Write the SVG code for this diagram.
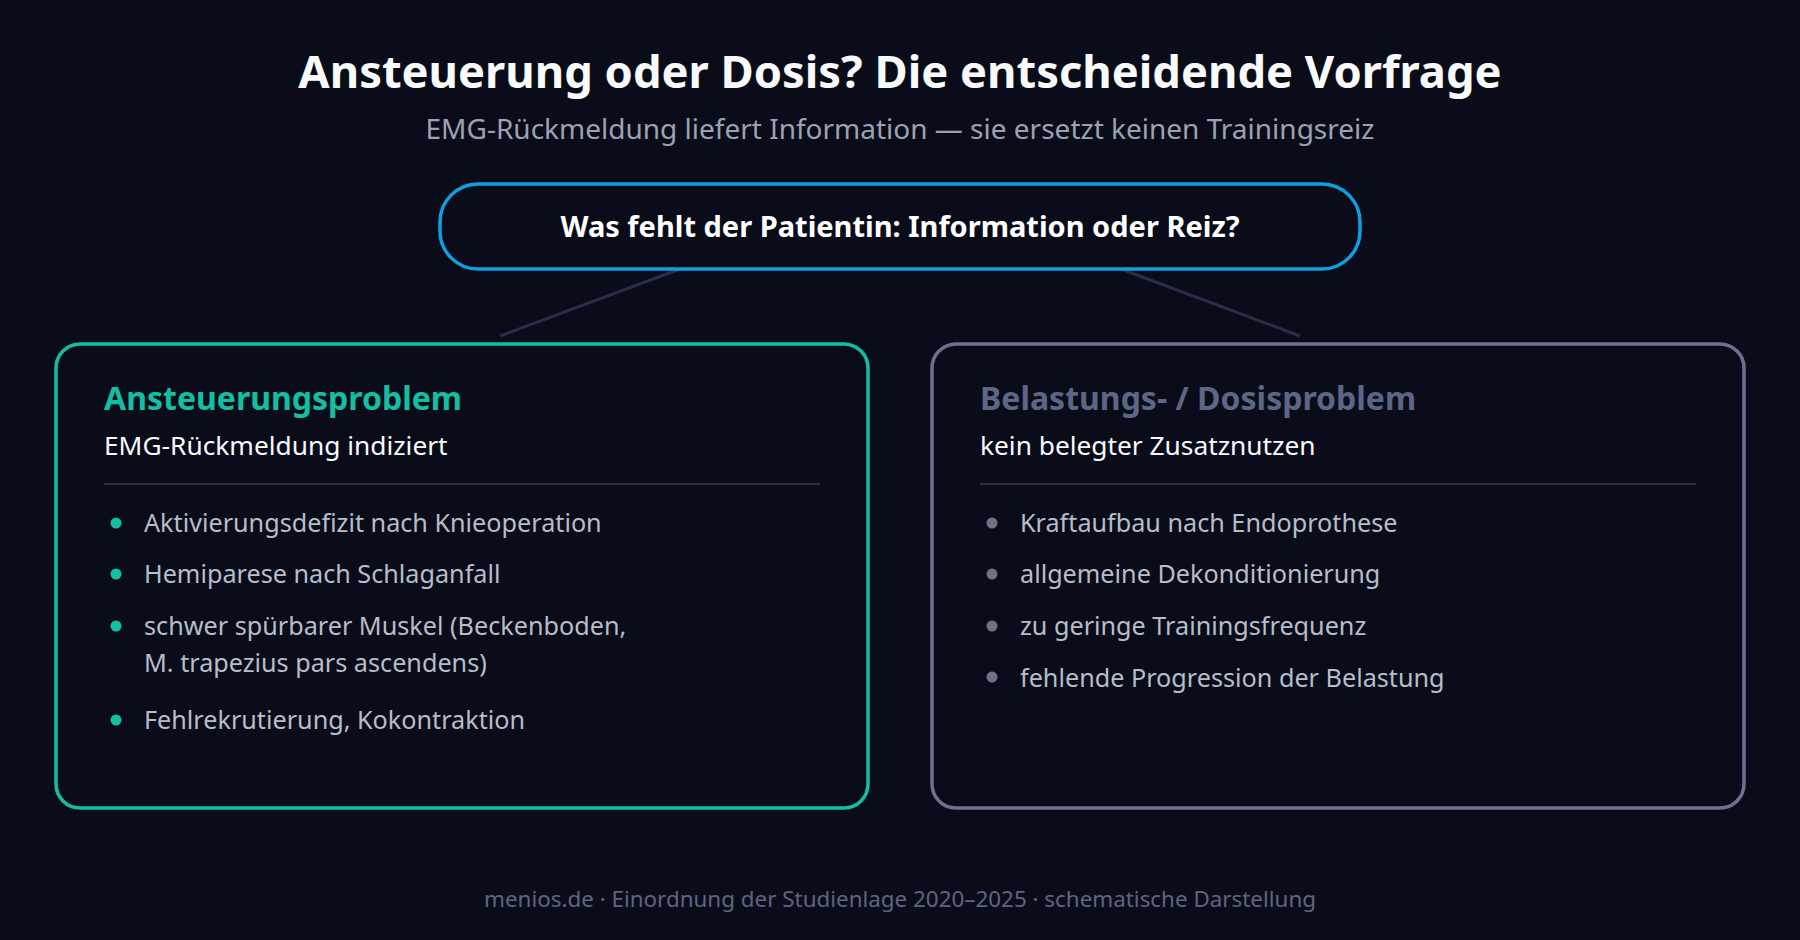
<svg xmlns="http://www.w3.org/2000/svg" width="1800" height="940" viewBox="0 0 1800 940">
<style>
text{font-family:"Noto Sans","Open Sans","DejaVu Sans",sans-serif}
.title{font-size:45.3px;font-weight:700;fill:#f8fafc}
.sub{font-size:28px;fill:#9aa3b5}
.q{font-size:29px;font-weight:700;fill:#ffffff}
.h{font-size:32px;font-weight:700}
.sh{font-size:26.3px;fill:#f8fafc}
.li{font-size:25.2px;fill:#b6bdcb}
.foot{font-size:22.4px;fill:#5d6680}
.div{stroke:#283046;stroke-width:2}
.conn{stroke:#27304a;stroke-width:3;fill:none}
</style>
<rect width="1800" height="940" fill="#0a0d19"/>
<text class="title" x="900" y="88" text-anchor="middle">Ansteuerung oder Dosis? Die entscheidende Vorfrage</text>
<text class="sub" x="900" y="139" text-anchor="middle">EMG-Rückmeldung liefert Information — sie ersetzt keinen Trainingsreiz</text>
<g id="connectors">
<line class="conn" x1="680" y1="269" x2="500" y2="336"/>
<line class="conn" x1="1121" y1="269" x2="1300" y2="336"/>
</g>
<g id="question">
<rect x="440" y="184" width="920" height="85" rx="38" fill="#0a0d19" stroke="#0ea0e0" stroke-width="3.5"/>
<text class="q" x="900" y="237" text-anchor="middle">Was fehlt der Patientin: Information oder Reiz?</text>
</g>
<g id="ansteuerung">
<rect x="56" y="344" width="812" height="464" rx="24" fill="#0a0d19" stroke="#13bfa2" stroke-width="3.5"/>
<text class="h" x="104" y="410" fill="#13bfa2">Ansteuerungsproblem</text>
<text class="sh" x="104" y="455">EMG-Rückmeldung indiziert</text>
<line class="div" x1="104" y1="484" x2="820" y2="484"/>
<g fill="#13bfa2">
<circle cx="116" cy="523" r="5.5"/>
<circle cx="116" cy="574" r="5.5"/>
<circle cx="116" cy="626" r="5.5"/>
<circle cx="116" cy="720" r="5.5"/>
</g>
<text class="li" x="144" y="531.5">Aktivierungsdefizit nach Knieoperation</text>
<text class="li" x="144" y="583">Hemiparese nach Schlaganfall</text>
<text class="li" x="144" y="635">schwer spürbarer Muskel (Beckenboden,</text>
<text class="li" x="144" y="671.5">M. trapezius pars ascendens)</text>
<text class="li" x="144" y="729">Fehlrekrutierung, Kokontraktion</text>
</g>
<g id="dosis">
<rect x="932" y="344" width="812" height="464" rx="24" fill="#0a0d19" stroke="#6a7290" stroke-width="3.5"/>
<text class="h" x="980" y="410" fill="#5d6684">Belastungs- / Dosisproblem</text>
<text class="sh" x="980" y="455">kein belegter Zusatznutzen</text>
<line class="div" x1="980" y1="484" x2="1696" y2="484"/>
<g fill="#6b7388">
<circle cx="992" cy="523" r="5.5"/>
<circle cx="992" cy="574" r="5.5"/>
<circle cx="992" cy="626" r="5.5"/>
<circle cx="992" cy="677" r="5.5"/>
</g>
<text class="li" x="1020" y="531.5">Kraftaufbau nach Endoprothese</text>
<text class="li" x="1020" y="583">allgemeine Dekonditionierung</text>
<text class="li" x="1020" y="635">zu geringe Trainingsfrequenz</text>
<text class="li" x="1020" y="686.5">fehlende Progression der Belastung</text>
</g>
<text class="foot" x="900" y="907" text-anchor="middle">menios.de · Einordnung der Studienlage 2020–2025 · schematische Darstellung</text>
</svg>
